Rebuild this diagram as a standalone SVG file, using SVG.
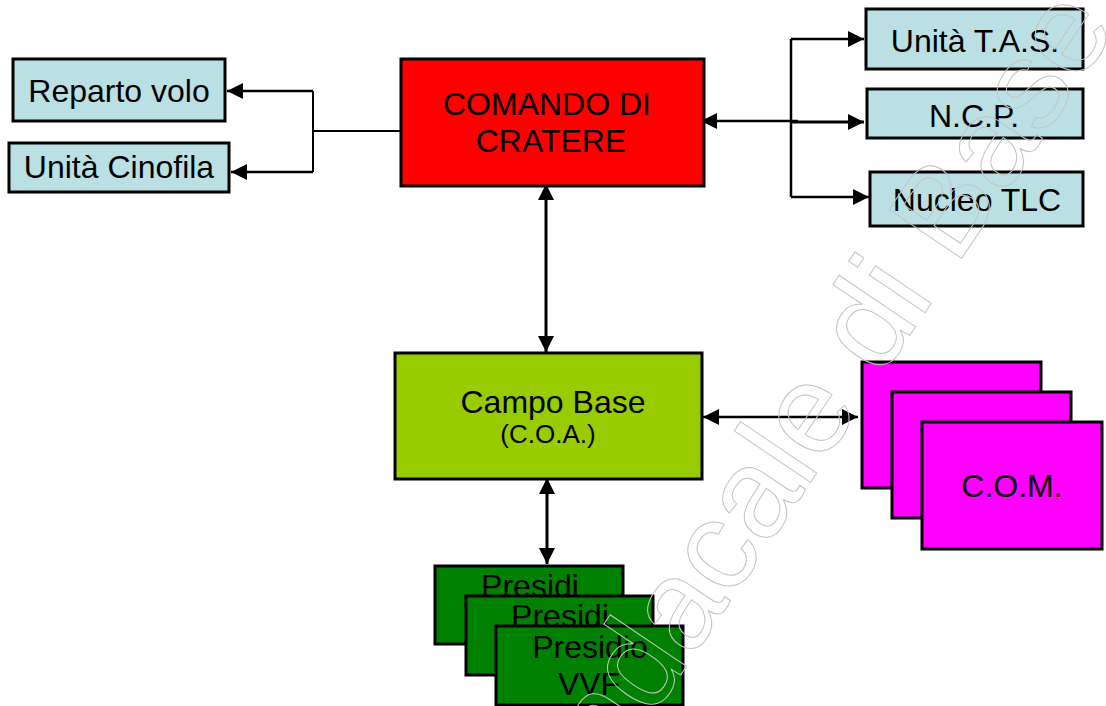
<svg xmlns="http://www.w3.org/2000/svg" width="1106" height="706" viewBox="0 0 1106 706">
<defs>
<marker id="ah" markerUnits="userSpaceOnUse" markerWidth="17" markerHeight="16" refX="16" refY="8" orient="auto-start-reverse" viewBox="0 0 17 16">
<path d="M0,0 L16,8 L0,16 z" fill="#000"/>
</marker>
<style>
.box{stroke:#000;stroke-width:3}
.lb{fill:#bbe0e3}
.t{font-family:"Liberation Sans",Arial,sans-serif;font-size:32px;fill:#000;text-anchor:middle}
.s{font-size:26px}
.c{fill:none;stroke:#000;stroke-width:2.5}
.a{marker-end:url(#ah)}
.d{marker-start:url(#ah);marker-end:url(#ah)}
.wm{font-family:"Liberation Sans",Arial,sans-serif;font-size:127px;fill:none;stroke:#c4c4c4;stroke-width:1}
</style>
</defs>
<rect width="1106" height="706" fill="#fff"/>

<g id="connectors">
<path class="c" style="stroke-width:2" d="M401,131 H313 M313,91 V172"/>
<path class="c a" d="M313,91 H227"/>
<path class="c a" d="M313,172 H231"/>
<path class="c a" d="M798,121 H701"/>
<path class="c" d="M791,39 V197"/>
<path class="c a" d="M791,39 H864"/>
<path class="c a" style="stroke-width:3" d="M791,122 H864"/>
<path class="c a" d="M791,197 H869"/>
<path class="c d" style="stroke-width:3" d="M546,184 V352"/>
<path class="c d" style="stroke-width:3" d="M547,478 V564"/>
<path class="c d" d="M703,417 H858"/>
</g>

<g id="reparto-volo">
<rect class="box lb" x="13" y="59" width="212" height="62"/>
<text class="t" x="119" y="102">Reparto volo</text>
</g>
<g id="unita-cinofila">
<rect class="box lb" x="9" y="143" width="220" height="49"/>
<text class="t" x="119" y="178">Unità Cinofila</text>
</g>
<g id="comando-di-cratere">
<rect class="box" fill="#ff0000" x="401" y="59" width="303" height="127"/>
<text class="t" x="547" y="115">COMANDO DI</text>
<text class="t" x="551" y="152">CRATERE</text>
</g>
<g id="unita-tas">
<rect class="box lb" x="866" y="9" width="217" height="60"/>
<text class="t" x="975" y="52">Unità T.A.S.</text>
</g>
<g id="ncp">
<rect class="box lb" x="867" y="89" width="216" height="49"/>
<text class="t" x="974" y="127">N.C.P.</text>
</g>
<g id="nucleo-tlc">
<rect class="box lb" x="870" y="172" width="213" height="54"/>
<text class="t" x="977" y="211">Nucleo TLC</text>
</g>
<g id="campo-base">
<rect class="box" fill="#99cc00" x="395" y="353" width="307" height="126"/>
<text class="t" x="553" y="413">Campo Base</text>
<text class="t s" x="548" y="443">(C.O.A.)</text>
</g>
<g id="com">
<rect class="box" fill="#ff00ff" x="862" y="362" width="179" height="126"/>
<rect class="box" fill="#ff00ff" x="892" y="392" width="179" height="126"/>
<rect class="box" fill="#ff00ff" x="922" y="422" width="180" height="127"/>
<text class="t" x="1012" y="497">C.O.M.</text>
</g>
<g id="presidi">
<rect class="box" fill="#008000" x="435" y="566" width="188" height="78"/>
<text class="t" x="530" y="597">Presidi</text>
<rect class="box" fill="#008000" x="466" y="596" width="187" height="79"/>
<text class="t" x="560" y="627">Presidi</text>
<rect class="box" fill="#008000" x="496" y="626" width="187" height="79"/>
<text class="t" x="590" y="658">Presidio</text>
<text class="t" x="589" y="695">VVF</text>
</g>

<text class="wm" transform="translate(549,870) rotate(-56)">Sindacale di Base</text>
</svg>
